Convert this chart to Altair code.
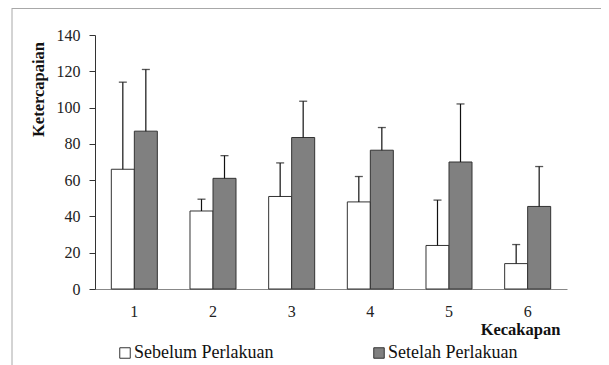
import altair as alt
import pandas as pd

categories = ["1", "2", "3", "4", "5", "6"]
groups = ["Sebelum Perlakuan", "Setelah Perlakuan"]
sebelum = [66, 43, 51, 48, 24, 14]
sebelum_err = [48, 6.5, 18.5, 14, 25, 10.5]
setelah = [87, 61, 83.5, 76.5, 70, 45.5]
setelah_err = [34, 12.5, 20, 12.5, 32, 22]
y_ticks = [0, 20, 40, 60, 80, 100, 120, 140]

rows = []
for i, c in enumerate(categories):
    rows.append({"k": c, "g": groups[0], "v": sebelum[i], "top": sebelum[i] + sebelum_err[i]})
    rows.append({"k": c, "g": groups[1], "v": setelah[i], "top": setelah[i] + setelah_err[i]})
df = pd.DataFrame(rows)

FONT = "Liberation Serif"
W, H = 472, 254

x_axis = alt.Axis(title="Kecakapan", labelAngle=0, ticks=False,
                  domainColor="#888888", labelFont=FONT, labelFontSize=16,
                  labelColor="#222222", labelBaseline="alphabetic", labelPadding=27,
                  titleFont=FONT, titleFontSize=16.5, titleFontWeight="bold",
                  titleColor="#111111", titleX=425, titleY=45,
                  titleAlign="center", titleBaseline="alphabetic")
y_axis = alt.Axis(title="Ketercapaian", values=y_ticks, grid=False,
                  labelOverlap=False, labelFlush=False,
                  domainColor="#333333", tickColor="#333333", tickSize=6,
                  labelPadding=9, labelFont=FONT, labelFontSize=16,
                  labelColor="#222222",
                  titleFont=FONT, titleFontSize=16.5, titleFontWeight="bold",
                  titleColor="#111111", titleAngle=270, titleX=-56.5, titleY=54,
                  titleAlign="center", titleBaseline="middle")
x_scale = alt.Scale(paddingInner=0.415, paddingOuter=0.2075)
y_scale = alt.Scale(domain=[0, 140], nice=False)

x = alt.X("k:N", sort=categories, scale=x_scale, axis=x_axis)
xo = alt.XOffset("g:N", sort=groups)

color = alt.Color("g:N", sort=groups,
                  scale=alt.Scale(domain=groups, range=["#ffffff", "#808080"]),
                  legend=alt.Legend(title=None, orient="none", legendX=21, legendY=309,
                                    direction="horizontal", symbolType="square",
                                    symbolSize=110, symbolStrokeColor="#333333",
                                    symbolStrokeWidth=1, labelFont=FONT, labelFontSize=18,
                                    labelColor="#111111", labelOffset=0,
                                    columnPadding=96, padding=0))

bars = alt.Chart(df).mark_bar(stroke="#333333", strokeWidth=1).encode(
    x=x, xOffset=xo, y=alt.Y("v:Q", scale=y_scale, axis=y_axis), fill=color)

err = alt.Chart(df).mark_rule(color="#111111", strokeWidth=1.2).encode(
    x=x, xOffset=xo, y=alt.Y("v:Q", scale=y_scale, axis=y_axis), y2="top:Q")

cap = alt.Chart(df).mark_tick(color="#111111", thickness=1.3, size=8).encode(
    x=x, xOffset=xo, y=alt.Y("top:Q", scale=y_scale, axis=y_axis))

one = pd.DataFrame({"a": [0]})
frame_left = alt.Chart(one).mark_rule(color="#a8a8a8", strokeWidth=1).encode(
    x=alt.value(-83), y=alt.value(-27), y2=alt.value(H + 76))
frame_top = alt.Chart(one).mark_rule(color="#a8a8a8", strokeWidth=1).encode(
    x=alt.value(-83), x2=alt.value(W + 34), y=alt.value(-26.5))

chart = alt.layer(frame_left, frame_top, bars, err, cap).properties(
    width=W, height=H,
    autosize=alt.AutoSizeParams(type="none"),
    padding={"left": 87, "top": 27, "right": 34, "bottom": 76},
).configure_view(stroke=None).configure_axis(domainWidth=1, tickWidth=1)

chart.save("out.html", embed_options={"renderer": "svg", "actions": False})
